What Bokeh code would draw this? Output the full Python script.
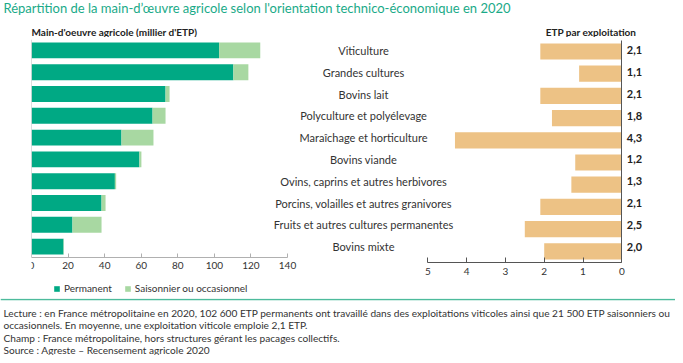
from bokeh.plotting import figure
from bokeh.layouts import column, row
from bokeh.models import (ColumnDataSource, Range1d, Label, Span,
                          Legend, LegendItem, FixedTicker, LinearAxis)
from bokeh.embed import file_html
from bokeh.resources import INLINE
from bokeh.core.properties import value

# ---------------- data ----------------
categories = ["Viticulture", "Grandes cultures", "Bovins lait",
              "Polyculture et polyélevage", "Maraîchage et horticulture",
              "Bovins viande", "Ovins, caprins et autres herbivores",
              "Porcins, volailles et autres granivores",
              "Fruits et autres cultures permanentes", "Bovins mixte"]
permanent = [102.6, 110.4, 73.3, 66.2, 49.2, 59.0, 45.6, 38.3, 22.4, 17.5]
saisonnier = [22.5, 8.2, 2.2, 7.1, 17.5, 1.1, 0.7, 2.2, 15.9, 0.2]
etp = [2.1, 1.1, 2.1, 1.8, 4.3, 1.2, 1.3, 2.1, 2.5, 2.0]
etp_labels = [f"{v:.1f}".replace(".", ",") for v in etp]
x_ticks = [0, 20, 40, 60, 80, 100, 120, 140]
etp_ticks = [0, 1, 2, 3, 4, 5]
series_names = ["Permanent", "Saisonnier ou occasionnel"]

title_text = ("Répartition de la main-d\u2019œuvre agricole selon l'orientation "
              "technico-économique en 2020")
left_title = "Main-d'oeuvre agricole (millier d'ETP)"
right_title = "ETP par exploitation"
notes = [
    "Lecture : en France métropolitaine en 2020, 102 600 ETP permanents ont travaillé dans des exploitations viticoles ainsi que 21 500 ETP saisonniers ou",
    "occasionnels. En moyenne, une exploitation viticole emploie 2,1 ETP.",
    "Champ : France métropolitaine, hors structures gérant les pacages collectifs.",
    "Source : Agreste \u2013 Recensement agricole 2020",
]

FONT = "Lato"
C_PERM = "#00A984"
C_SEAS = "#A8D8A2"
C_ETP = "#EDC285"
C_TITLE = "#1AAA88"
TXT = "#333333"
DARK = "#222222"

n = len(categories)
src = ColumnDataSource(dict(cat=categories, idx=list(range(n)),
                            permanent=permanent, saisonnier=saisonnier,
                            etp=etp, lab=etp_labels))


def strip(height):
    p = figure(width=675, height=height, x_range=Range1d(0, 1), y_range=Range1d(0, 1),
               output_backend="svg", toolbar_location=None, title=None,
               x_axis_location=None, y_axis_location=None,
               min_border=0, min_border_left=0, min_border_right=0,
               min_border_top=0, min_border_bottom=0)
    p.outline_line_color = None
    p.grid.visible = False
    return p


# ---------------- title strip ----------------
pT = strip(37)
pT.add_layout(Label(x=3, y=30, x_units="screen", y_units="screen", text=title_text,
                    text_font=FONT, text_font_size="13px",
                    text_color=C_TITLE, text_baseline="middle"))
pT.add_layout(Label(x=31, y=6, x_units="screen", y_units="screen", text=left_title,
                    text_font=FONT, text_font_size="10px",
                    text_font_style="bold", text_color=DARK,
                    text_baseline="middle"))
pT.add_layout(Label(x=636, y=6, x_units="screen", y_units="screen", text=right_title,
                    text_font=FONT, text_font_size="10px",
                    text_font_style="bold", text_color=DARK,
                    text_align="right", text_baseline="middle"))

# ---------------- main chart (both panels in one frame) ----------------
L_PX = 1.8286          # px per thousand ETP
FRAME_W = 614          # frame spans x 31..645
R_PX = 38.8            # px per ETP
R_ZERO = 590.3         # zero of the right scale inside the frame
LABEL_DIST = 258.3     # px from the right zero line to the category label centres

pM = figure(width=675, height=261,
            x_range=Range1d(0, FRAME_W / L_PX),
            y_range=Range1d(11.38, -0.5),
            output_backend="svg", toolbar_location=None, title=None,
            x_axis_location=None, y_axis_location=None,
            min_border=0, min_border_left=31, min_border_right=30,
            min_border_top=2, min_border_bottom=0)
pM.outline_line_color = None
pM.grid.visible = False
pM.extra_x_ranges = {"rx": Range1d(R_ZERO / R_PX, -(FRAME_W - R_ZERO) / R_PX)}
pM.extra_y_ranges = {"ry": Range1d(11.126, -0.54)}

# left: stacked workforce bars
rs = pM.hbar_stack(["permanent", "saisonnier"], y="idx", height=0.73,
                   color=[C_PERM, C_SEAS], line_color=None, source=src)

ax = LinearAxis(fixed_location=n - 0.5, ticker=FixedTicker(ticks=x_ticks),
                bounds=(0, 140))
ax.major_tick_in = 4
ax.major_tick_out = 0
ax.minor_tick_line_color = None
ax.axis_line_color = "#B0B0B0"
ax.major_tick_line_color = "#B0B0B0"
ax.major_label_text_font = FONT
ax.major_label_text_font_size = "10px"
ax.major_label_text_color = TXT
ax.major_label_standoff = 4
pM.add_layout(ax, "below")

left_line = LinearAxis(fixed_location=0, ticker=FixedTicker(ticks=[]),
                       bounds=(-0.5, n - 0.5))
left_line.axis_line_color = "#BDBDBD"
left_line.major_tick_line_color = None
left_line.minor_tick_line_color = None
left_line.major_label_text_font_size = "0px"
pM.add_layout(left_line, "left")

legend = Legend(items=[LegendItem(label=series_names[0], renderers=[rs[0]]),
                       LegendItem(label=series_names[1], renderers=[rs[1]])],
                location=(22, 4), orientation="horizontal",
                glyph_width=7, glyph_height=7, label_height=12,
                label_standoff=4, spacing=12, padding=0, margin=0,
                border_line_color=None, background_fill_alpha=0,
                label_text_font=FONT, label_text_font_size="10px",
                label_text_color=TXT)
pM.add_layout(legend)

# right: ETP per farm bars
pM.hbar(y="idx", left=0, right="etp", height=0.73, color=C_ETP, line_color=None,
        source=src, x_range_name="rx", y_range_name="ry")
pM.text(x=0, y="idx", text="lab", x_offset=5, source=src, text_align="left",
        text_baseline="middle", text_font=value(FONT), text_font_size="11px",
        text_font_style="bold", text_color=DARK, x_range_name="rx")
pM.text(x=LABEL_DIST / R_PX, y="idx", text="cat", source=src,
        text_align="center", text_baseline="middle", text_font=value(FONT),
        text_font_size="11px", text_color=TXT, x_range_name="rx")

bx = LinearAxis(x_range_name="rx", y_range_name="ry", fixed_location=n - 0.5,
                ticker=FixedTicker(ticks=etp_ticks), bounds=(0, 5))
bx.major_tick_in = 5
bx.major_tick_out = 0
bx.minor_tick_line_color = None
bx.axis_line_color = "#555555"
bx.major_tick_line_color = "#555555"
bx.major_label_text_font = FONT
bx.major_label_text_font_size = "10px"
bx.major_label_text_color = TXT
bx.major_label_standoff = 6
pM.add_layout(bx, "below")

zero_line = LinearAxis(x_range_name="rx", y_range_name="ry", fixed_location=0,
                       ticker=FixedTicker(ticks=[]), bounds=(-0.5, n - 0.5))
zero_line.axis_line_color = "#555555"
zero_line.major_tick_line_color = None
zero_line.minor_tick_line_color = None
zero_line.major_label_text_font_size = "0px"
pM.add_layout(zero_line, "right")

# ---------------- notes strip ----------------
pN = strip(57)
pN.y_range = Range1d(0, 57)
pN.add_layout(Span(location=56, dimension="width", line_color="#4DBB9C",
                   line_width=1.5))
for txt, yy in zip(notes, [43, 30.5, 18, 5.5]):
    pN.add_layout(Label(x=3, y=yy, x_units="screen", y_units="screen", text=txt,
                        text_font=FONT, text_font_size="10.15px",
                        text_color=TXT, text_baseline="middle"))

layout = column(pT, row(pM), pN, spacing=0)
open("out.html", "w").write(file_html(layout, INLINE))
